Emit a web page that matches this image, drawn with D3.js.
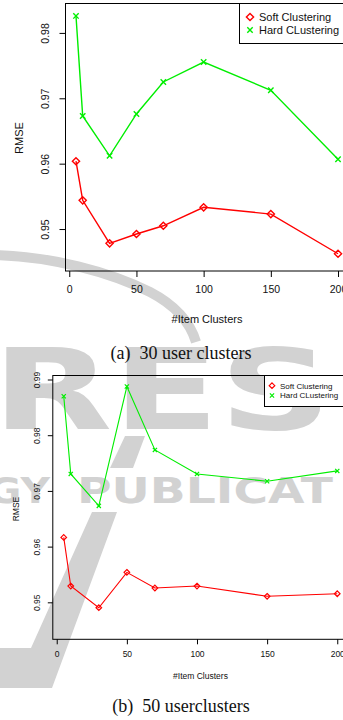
<!DOCTYPE html>
<html>
<head>
<meta charset="utf-8">
<script src="https://cdn.jsdelivr.net/npm/d3@7"></script>
<style>
  html, body { margin: 0; padding: 0; background: #fff; }
  svg { display: block; }
  .cap { white-space: pre; }
</style>
</head>
<body>
<svg id="fig" width="343" height="720"></svg>
<script>
// ---------------- data ----------------
const itemClusters = [5, 10, 30, 50, 70, 100, 150, 200];
const soft30 = [0.96037, 0.95439, 0.94781, 0.94924, 0.9505, 0.95332, 0.95229, 0.94622];
const hard30 = [0.9826, 0.9673, 0.9612, 0.9676, 0.9725, 0.97555, 0.97122, 0.96067];
const soft50 = [0.96165, 0.95292, 0.94903, 0.95538, 0.95257, 0.95292, 0.95108, 0.95154];
const hard50 = [0.9870, 0.97305, 0.96731, 0.98874, 0.97736, 0.97305, 0.97174, 0.97359];
const xTicks = [0, 50, 100, 150, 200];
const yTicks30 = [0.95, 0.96, 0.97, 0.98];
const yTicks50 = [0.95, 0.96, 0.97, 0.98, 0.99];
const seriesNames = ["Soft Clustering", "Hard CLustering"];
const captions = ["(a)  30 user clusters", "(b)  50 userclusters"];
const xTitle = "#Item Clusters";
const yTitle = "RMSE";

const svg = d3.select("#fig");

// ---------------- watermark (background) ----------------
const wm = svg.append("g").attr("fill", "#d2d2d2").attr("stroke", "none");
wm.append("path")
  .attr("d", "M -5 255 C 50 256, 110 272, 150 292 C 175 305, 190 322, 196 342")
  .attr("fill", "none").attr("stroke", "#d2d2d2").attr("stroke-width", 10);
wm.append("text").attr("x", -8).attr("y", 429)
  .attr("font-family", "DejaVu Sans").attr("font-weight", "bold").attr("font-size", 112)
  .attr("textLength", 340).attr("lengthAdjust", "spacingAndGlyphs").text("RES");
wm.append("text").attr("x", -12).attr("y", 503)
  .attr("font-family", "DejaVu Sans").attr("font-weight", "bold").attr("font-size", 36)
  .attr("textLength", 62).attr("lengthAdjust", "spacingAndGlyphs").text("GY");
wm.append("text").attr("x", 77).attr("y", 503)
  .attr("font-family", "DejaVu Sans").attr("font-weight", "bold").attr("font-size", 36)
  .attr("textLength", 256).attr("lengthAdjust", "spacingAndGlyphs").text("PUBLICAT");
wm.append("polygon").attr("points", "125,436 145,436 133,468 110,468");
wm.append("polygon").attr("points", "92,512 117,512 52,688 0,688 0,648 31,648");

// ---------------- chart builder ----------------
function drawChart(cfg) {
  const g = svg.append("g");
  const x = d3.scaleLinear().domain(cfg.xDomain).range([cfg.left, cfg.right]);
  const y = d3.scaleLinear().domain(cfg.yDomain).range([cfg.bottom, cfg.top]);

  // frame
  g.append("rect")
    .attr("x", cfg.left).attr("y", cfg.top)
    .attr("width", cfg.right - cfg.left).attr("height", cfg.bottom - cfg.top)
    .attr("fill", "none").attr("stroke", "#000").attr("stroke-width", 1);

  // x axis
  const xa = g.append("g").attr("transform", `translate(0,${cfg.bottom})`)
    .call(d3.axisBottom(x).tickValues(xTicks).tickSize(cfg.tick).tickPadding(cfg.xPad).tickFormat(d3.format("d")));
  xa.select(".domain").remove();
  xa.selectAll("line").attr("stroke", "#000");
  xa.selectAll("text").attr("font-family", "Liberation Sans, Arial, sans-serif")
    .attr("font-size", cfg.tickFont).attr("fill", "#111");

  // y axis
  const ya = g.append("g").attr("transform", `translate(${cfg.left},0)`)
    .call(d3.axisLeft(y).tickValues(cfg.yTicks).tickSize(cfg.tick).tickFormat(d3.format(".2f")));
  ya.select(".domain").remove();
  ya.selectAll("line").attr("stroke", "#000");
  ya.selectAll("text")
    .attr("x", 0).attr("y", -cfg.yPad).attr("dy", null)
    .attr("transform", "rotate(-90)").attr("text-anchor", "middle")
    .attr("font-family", "Liberation Sans, Arial, sans-serif")
    .attr("font-size", cfg.tickFont).attr("fill", "#111");

  // titles
  g.append("text").attr("x", cfg.xTitleX).attr("y", cfg.xTitleY).attr("text-anchor", "middle")
    .attr("font-family", "Liberation Sans, Arial, sans-serif").attr("font-size", cfg.titleFont)
    .attr("fill", "#111").text(xTitle);
  g.append("text").attr("transform", `translate(${cfg.yTitleX},${cfg.yTitleY}) rotate(-90)`)
    .attr("text-anchor", "middle")
    .attr("font-family", "Liberation Sans, Arial, sans-serif").attr("font-size", cfg.titleFont)
    .attr("fill", "#111").text(yTitle);

  // series
  const clip = "clip" + cfg.id;
  svg.append("clipPath").attr("id", clip).append("rect")
    .attr("x", cfg.left).attr("y", cfg.top).attr("width", cfg.right - cfg.left).attr("height", cfg.bottom - cfg.top);

  const series = [
    { name: seriesNames[0], vals: cfg.soft, color: "#ff0000", shape: "diamond" },
    { name: seriesNames[1], vals: cfg.hard, color: "#00ee00", shape: "cross" }
  ];
  const line = d3.line().x((d, i) => x(itemClusters[i])).y(d => y(d));
  const drawMarker = (sel, shape, color, s) => {
    if (shape === "diamond") {
      sel.append("path").attr("d", `M0,${-s}L${s},0L0,${s}L${-s},0Z`)
        .attr("fill", "none").attr("stroke", color).attr("stroke-width", cfg.mlw);
    } else {
      const c = s * 0.75;
      sel.append("path").attr("d", `M${-c},${-c}L${c},${c}M${-c},${c}L${c},${-c}`)
        .attr("fill", "none").attr("stroke", color).attr("stroke-width", cfg.mlw);
    }
  };
  series.forEach(s => {
    g.append("path").datum(s.vals).attr("d", line)
      .attr("fill", "none").attr("stroke", s.color).attr("stroke-width", cfg.lw);
    s.vals.forEach((v, i) => {
      const m = g.append("g").attr("transform", `translate(${x(itemClusters[i])},${y(v)})`);
      drawMarker(m, s.shape, s.color, cfg.msize);
    });
  });

  // legend
  const lg = g.append("g");
  lg.append("rect").attr("x", cfg.legX).attr("y", cfg.top)
    .attr("width", cfg.right - cfg.legX + 10).attr("height", cfg.legH)
    .attr("fill", "#fff").attr("stroke", "#000").attr("stroke-width", 1);
  series.forEach((s, i) => {
    const yy = cfg.legY0 + i * cfg.legDy;
    const m = lg.append("g").attr("transform", `translate(${cfg.legMX},${yy})`);
    drawMarker(m, s.shape, s.color, cfg.legMs);
    lg.append("text").attr("x", cfg.legTX).attr("y", yy).attr("dy", "0.35em")
      .attr("font-family", "Liberation Sans, Arial, sans-serif").attr("font-size", cfg.legFont)
      .attr("fill", "#111").text(s.name);
  });

  // caption
  g.append("text").attr("class", "cap").attr("x", cfg.capX).attr("y", cfg.capY)
    .attr("text-anchor", "middle").attr("font-family", "Liberation Serif, Times New Roman, serif")
    .attr("font-size", 18).attr("fill", "#111").text(cfg.caption);
}

drawChart({
  id: 1, xDomain: [-2.8, 207.8], yDomain: [0.94358, 0.9845],
  left: 65.5, right: 348.5, top: 3.5, bottom: 271,
  yTicks: yTicks30, soft: soft30, hard: hard30,
  tick: 6, xPad: 9, yPad: 17, tickFont: 10.5, titleFont: 11,
  xTitleX: 207, xTitleY: 323, yTitleX: 23, yTitleY: 138,
  lw: 1.4, mlw: 1.4, msize: 3.6,
  legX: 239.5, legH: 40, legY0: 17, legDy: 13, legMX: 250, legTX: 259, legMs: 3.6, legFont: 11,
  capX: 181, capY: 359, caption: captions[0]
});

drawChart({
  id: 2, xDomain: [-2.8, 207.8], yDomain: [0.94336, 0.99072],
  left: 52.8, right: 348.2, top: 375.5, bottom: 639.3,
  yTicks: yTicks50, soft: soft50, hard: hard50,
  tick: 5, xPad: 7, yPad: 13, tickFont: 8.5, titleFont: 8.5,
  xTitleX: 200.5, xTitleY: 679, yTitleX: 19, yTitleY: 509,
  lw: 1.1, mlw: 1.2, msize: 2.8,
  legX: 264.5, legH: 31, legY0: 385.7, legDy: 9.8, legMX: 272, legTX: 280, legMs: 2.8, legFont: 8,
  capX: 181, capY: 712, caption: captions[1]
});
</script>
</body>
</html>
